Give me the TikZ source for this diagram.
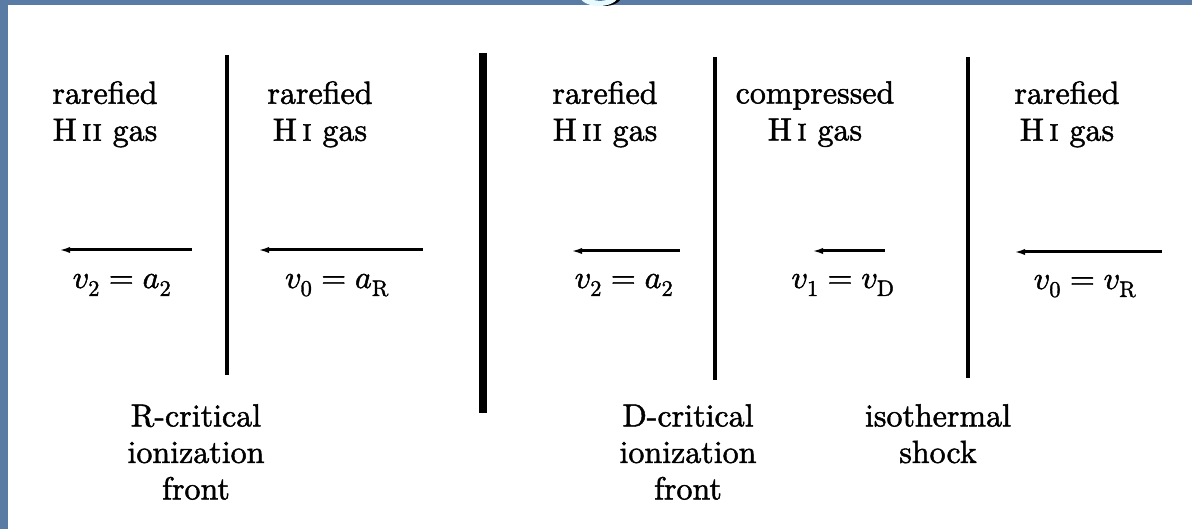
\documentclass[tikz,border=0pt]{standalone}
\usepackage{unicode-math}
\setmainfont{lmroman10-regular.otf}[ItalicFont=lmroman10-italic.otf, BoldFont=lmroman10-bold.otf, SmallCapsFont=lmromancaps10-regular.otf, FakeBold=1.5]
\setmathfont{latinmodern-math.otf}[FakeBold=1.5]
\usetikzlibrary{arrows.meta}
\definecolor{slideblue}{HTML}{5A7BA3}
\definecolor{titlecyan}{HTML}{E6FAFF}
\tikzset{
  lbl/.style={inner sep=0pt, align=center, anchor=north, font=\fontsize{32}{37}\selectfont},
  blbl/.style={inner sep=0pt, align=center, anchor=north, font=\fontsize{32}{36.5}\selectfont},
  vel/.style={inner sep=0pt, anchor=base, font=\fontsize{32}{37}\selectfont},
  frontline/.style={line width=3.2pt, black},
  divider/.style={line width=8pt, black},
  flow/.style={line width=3pt, {Latex[length=12pt,width=6pt]}-},
}
\begin{document}
\begin{tikzpicture}[x=1pt,y=-1pt]
\useasboundingbox (0,0) rectangle (1192,529);
\fill[slideblue] (0,0) rectangle (1192,529);
\fill[white] (8,5) rectangle (1192,529);
% bit of the title letter above
\begin{scope}
\clip (560,0) rectangle (640,6);
\fill[black] (604,-3) ellipse (17 and 9);
\fill[titlecyan] (599,-4) ellipse (19 and 10);
\fill[slideblue] (600,-8) ellipse (13 and 9);
\end{scope}

% fronts / divider
\coordinate (f1t) at (227,55);  \coordinate (f1b) at (227,375);
\coordinate (dvt) at (483,53);  \coordinate (dvb) at (483,413);
\coordinate (f2t) at (715,57);  \coordinate (f2b) at (715,380);
\coordinate (f3t) at (968,57);  \coordinate (f3b) at (968,378);
\draw[frontline] (f1t) -- (f1b);
\draw[divider] (dvt) -- (dvb);
\draw[frontline] (f2t) -- (f2b);
\draw[frontline] (f3t) -- (f3b);

% gas labels
\node[lbl] (g1) at (105,81) {rarefied\\H\,\textsc{ii} gas};
\node[lbl] (g2) at (320,81) {rarefied\\H\,\textsc{i} gas};
\node[lbl] (g3) at (605,81) {rarefied\\H\,\textsc{ii} gas};
\node[lbl] (g4) at (815,81) {compressed\\H\,\textsc{i} gas};
\node[lbl] (g5) at (1067,81) {rarefied\\H\,\textsc{i} gas};

% flow arrows
\coordinate (a1r) at (192,250); \coordinate (a1l) at (58,250);
\coordinate (a2r) at (423,250); \coordinate (a2l) at (257,250);
\coordinate (a3r) at (680,251); \coordinate (a3l) at (570,251);
\coordinate (a4r) at (885,251); \coordinate (a4l) at (811,251);
\coordinate (a5r) at (1162,252); \coordinate (a5l) at (1013,252);
\draw[flow] (a1l) -- (a1r);
\draw[flow] (a2l) -- (a2r);
\draw[flow] (a3l) -- (a3r);
\draw[flow] (a4l) -- (a4r);
\draw[flow] (a5l) -- (a5r);

% velocity labels
\node[vel] (v1) at (122,288) {$v_2 = a_2$};
\node[vel] (v2) at (337,288) {$v_0 = a_{\mathrm{R}}$};
\node[vel] (v3) at (624,288) {$v_2 = a_2$};
\node[vel] (v4) at (843,288) {$v_1 = v_{\mathrm{D}}$};
\node[vel] (v5) at (1085,289) {$v_0 = v_{\mathrm{R}}$};

% front labels
\node[blbl] (l1) at (196,404) {R-critical\\ionization\\front};
\node[blbl] (l2) at (688,404) {D-critical\\ionization\\front};
\node[blbl] (l3) at (938,404) {isothermal\\shock};
\end{tikzpicture}
\end{document}
